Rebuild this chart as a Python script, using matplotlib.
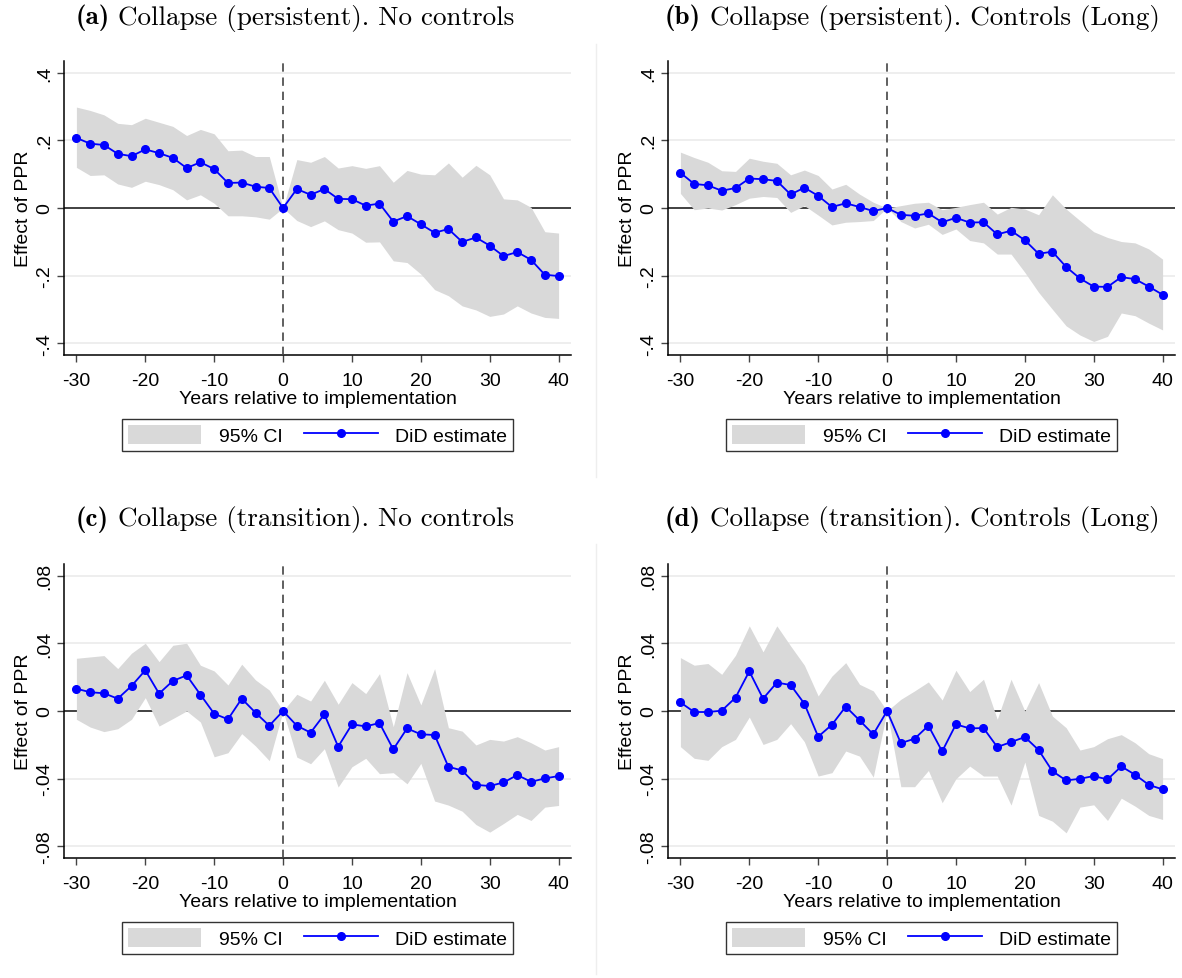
import matplotlib
matplotlib.use("Agg")
import matplotlib.pyplot as plt
from matplotlib.patches import Patch
from matplotlib.lines import Line2D
import numpy as np

plt.rcParams['font.family'] = ['Liberation Sans', 'DejaVu Sans']
plt.rcParams['axes.unicode_minus'] = False

# event time (years relative to implementation)
years = list(range(-30, 41, 2))

# (a) Collapse (persistent). No controls
est_a = [0.207, 0.190, 0.186, 0.160, 0.153, 0.173, 0.162, 0.148, 0.118, 0.135, 0.115, 0.074, 0.075, 0.063, 0.059,
         0.0,
         0.056, 0.039, 0.056, 0.027, 0.026, 0.007, 0.013, -0.040, -0.024, -0.048, -0.073, -0.062, -0.100, -0.087,
         -0.111, -0.142, -0.130, -0.153, -0.197, -0.201]
hi_a = [0.298, 0.288, 0.275, 0.250, 0.246, 0.265, 0.253, 0.241, 0.214, 0.232, 0.219, 0.169, 0.171, 0.152, 0.152,
        0.0,
        0.143, 0.135, 0.152, 0.118, 0.125, 0.117, 0.125, 0.076, 0.111, 0.100, 0.098, 0.133, 0.091, 0.126,
        0.098, 0.027, 0.024, 0.002, -0.070, -0.074]
lo_a = [0.120, 0.096, 0.098, 0.071, 0.061, 0.079, 0.069, 0.054, 0.024, 0.039, 0.014, -0.023, -0.023, -0.026, -0.033,
        0.0,
        -0.037, -0.055, -0.038, -0.064, -0.074, -0.101, -0.100, -0.156, -0.161, -0.195, -0.241, -0.259, -0.289, -0.301,
        -0.320, -0.313, -0.289, -0.310, -0.323, -0.326]

# (b) Collapse (persistent). Controls (Long)
est_b = [0.104, 0.071, 0.067, 0.051, 0.059, 0.087, 0.085, 0.080, 0.040, 0.060, 0.036, 0.003, 0.014, 0.003, -0.009,
         0.0,
         -0.020, -0.023, -0.016, -0.042, -0.029, -0.043, -0.042, -0.078, -0.067, -0.095, -0.135, -0.129, -0.174, -0.208,
         -0.232, -0.233, -0.204, -0.210, -0.232, -0.256]
hi_b = [0.165, 0.149, 0.135, 0.110, 0.108, 0.147, 0.138, 0.132, 0.098, 0.112, 0.096, 0.056, 0.070, 0.041, 0.017,
        0.0,
        0.007, 0.014, 0.017, -0.005, 0.002, 0.010, 0.017, -0.018, 0.002, -0.003, -0.020, 0.039, -0.003, -0.037,
        -0.070, -0.087, -0.099, -0.103, -0.121, -0.151]
lo_b = [0.043, -0.005, 0.000, -0.006, 0.010, 0.029, 0.034, 0.031, -0.013, 0.007, -0.021, -0.050, -0.042, -0.040, -0.037,
        0.0,
        -0.040, -0.059, -0.048, -0.078, -0.062, -0.096, -0.103, -0.136, -0.136, -0.190, -0.249, -0.299, -0.348, -0.375,
        -0.394, -0.379, -0.310, -0.318, -0.340, -0.360]

# (c) Collapse (transition). No controls
est_c = [0.0132, 0.0111, 0.0105, 0.0073, 0.0148, 0.0241, 0.0103, 0.0178, 0.0211, 0.0097, -0.0016, -0.0049, 0.0073,
         -0.0010, -0.0087,
         0.0,
         -0.0087, -0.0128, -0.0020, -0.0211, -0.0079, -0.0091, -0.0071, -0.0227, -0.0103, -0.0138, -0.0142, -0.0330,
         -0.0352, -0.0437, -0.0444, -0.0423, -0.0379, -0.0419, -0.0399, -0.0385]
hi_c = [0.0312, 0.0320, 0.0328, 0.0251, 0.0342, 0.0401, 0.0292, 0.0389, 0.0401, 0.0271, 0.0237, 0.0154, 0.0277,
        0.0184, 0.0124,
        0.0,
        0.0099, 0.0059, 0.0182, 0.0040, 0.0168, 0.0103, 0.0221, -0.0093, 0.0227, 0.0036, 0.0251, -0.0099,
        -0.0119, -0.0201, -0.0168, -0.0178, -0.0152, -0.0188, -0.0231, -0.0211]
lo_c = [-0.0049, -0.0095, -0.0122, -0.0105, -0.0049, 0.0079, -0.0089, -0.0045, 0.0000, -0.0065, -0.0271, -0.0247,
        -0.0134, -0.0207, -0.0294,
        0.0,
        -0.0273, -0.0312, -0.0223, -0.0450, -0.0330, -0.0280, -0.0371, -0.0365, -0.0431, -0.0310, -0.0533, -0.0557,
        -0.0593, -0.0672, -0.0717, -0.0666, -0.0612, -0.0648, -0.0569, -0.0559]

# (d) Collapse (transition). Controls (Long)
est_d = [0.0051, -0.0006, -0.0006, 0.0002, 0.0079, 0.0235, 0.0073, 0.0168, 0.0154, 0.0043, -0.0152, -0.0081, 0.0026,
         -0.0055, -0.0138,
         0.0,
         -0.0190, -0.0164, -0.0087, -0.0239, -0.0079, -0.0103, -0.0101, -0.0213, -0.0184, -0.0154, -0.0231, -0.0356,
         -0.0411, -0.0401, -0.0385, -0.0405, -0.0328, -0.0377, -0.0437, -0.0464]
hi_d = [0.0316, 0.0271, 0.0281, 0.0217, 0.0330, 0.0504, 0.0350, 0.0504, 0.0385, 0.0271, 0.0089, 0.0207, 0.0286,
        0.0158, 0.0119,
        0.0,
        0.0069, 0.0119, 0.0172, 0.0065, 0.0241, 0.0115, 0.0188, -0.0049, 0.0188, 0.0000, 0.0168, -0.0030,
        -0.0099, -0.0231, -0.0211, -0.0164, -0.0140, -0.0188, -0.0253, -0.0282]
lo_d = [-0.0211, -0.0280, -0.0292, -0.0211, -0.0168, -0.0036, -0.0198, -0.0168, -0.0075, -0.0182, -0.0385, -0.0365,
        -0.0237, -0.0267, -0.0391,
        0.0,
        -0.0448, -0.0448, -0.0352, -0.0543, -0.0401, -0.0326, -0.0385, -0.0385, -0.0557, -0.0302, -0.0618, -0.0652,
        -0.0721, -0.0569, -0.0555, -0.0648, -0.0516, -0.0563, -0.0618, -0.0642]

title_tags = ["(a)", "(b)", "(c)", "(d)"]
title_texts = ["Collapse (persistent). No controls",
               "Collapse (persistent). Controls (Long)",
               "Collapse (transition). No controls",
               "Collapse (transition). Controls (Long)"]

xticks = [-30, -20, -10, 0, 10, 20, 30, 40]
yticks_top = [-0.4, -0.2, 0, 0.2, 0.4]
ylabels_top = ['-.4', '-.2', '0', '.2', '.4']
yticks_bot = [-0.08, -0.04, 0, 0.04, 0.08]
ylabels_bot = ['-.08', '-.04', '0', '.04', '.08']

W, H = 1182, 979
FS = 14


def panel(fig, rect, est, lo, hi, yticks, ylabels, ylim):
    ax = fig.add_axes(rect)
    ax.fill_between(years, lo, hi, color='#d9d9d9', lw=0, zorder=2)
    ax.axhline(0, color='#333333', lw=1.3, zorder=1)
    for t in yticks:
        if t != 0:
            ax.axhline(t, color='#ebebeb', lw=1.2, zorder=0)
    ax.axvline(0, color='#444444', lw=1.2, ls=(0, (5, 3.5)), zorder=3)
    ax.plot(years, est, color='#0000ff', lw=1.3, marker='o', ms=5.5, zorder=4)
    ax.set_xlim(-31.8, 41.8)
    ax.set_ylim(-ylim, ylim)
    ax.set_xticks(xticks)
    ax.set_xticklabels([str(v) for v in xticks])
    ax.set_yticks(yticks)
    ax.set_yticklabels(ylabels, rotation=90, va='center')
    for s in ['top', 'right']:
        ax.spines[s].set_visible(False)
    for s in ['left', 'bottom']:
        ax.spines[s].set_color('black')
        ax.spines[s].set_linewidth(1.1)
    ax.tick_params(length=5, width=1.0, color='#444444', labelsize=FS, pad=3)
    ax.tick_params(axis='x', pad=7)
    ax.set_xlabel('Years relative to implementation', fontsize=FS, labelpad=1)
    ax.set_ylabel('Effect of PPR', fontsize=FS, labelpad=3)
    handles = [Patch(facecolor='#d9d9d9', edgecolor='none'),
               Line2D([], [], color='#0000ff', lw=1.3, marker='o', ms=5.5)]
    leg = ax.legend(handles, ['95% CI', 'DiD estimate'], loc='upper center',
                    bbox_to_anchor=(0.5, -64 / 294), ncol=2, fontsize=FS,
                    frameon=True, fancybox=False, edgecolor='black',
                    handlelength=3.8, handleheight=1.1, columnspacing=1.1,
                    handletextpad=0.9, borderaxespad=0, borderpad=0.3,
                    numpoints=1)
    leg.get_frame().set_linewidth(1.0)
    return ax


def main():
    fig = plt.figure(figsize=(W / 100, H / 100), dpi=100)
    ax_w = 507 / W
    ax_h = 294 / H
    panel(fig, [64 / W, 1 - 356 / H, ax_w, ax_h], est_a, lo_a, hi_a, yticks_top, ylabels_top, 0.434)
    panel(fig, [668 / W, 1 - 356 / H, ax_w, ax_h], est_b, lo_b, hi_b, yticks_top, ylabels_top, 0.434)
    panel(fig, [64 / W, 1 - 859 / H, ax_w, ax_h], est_c, lo_c, hi_c, yticks_bot, ylabels_bot, 0.087)
    panel(fig, [668 / W, 1 - 859 / H, ax_w, ax_h], est_d, lo_d, hi_d, yticks_bot, ylabels_bot, 0.087)

    # titles: bold tag + roman text, centred as one line
    renderer = fig.canvas.get_renderer()
    title_pos = [(295, 18), (912, 18), (295, 520), (912, 520)]
    for (tx, ty), tag, txt in zip(title_pos, title_tags, title_texts):
        t1 = fig.text(0, 1 - ty / H, tag, family='cmb10', fontsize=19.5, va='center')
        t2 = fig.text(0, 1 - ty / H, txt, family='cmr10', fontsize=19.5, va='center')
        w1 = t1.get_window_extent(renderer).width
        w2 = t2.get_window_extent(renderer).width
        gap = 9
        x0 = tx - (w1 + gap + w2) / 2
        t1.set_x(x0 / W)
        t2.set_x((x0 + w1 + gap) / W)

    # faint separators between the sub-graphs
    for y0, y1 in [(45, 478), (545, 975)]:
        fig.add_artist(Line2D([595.5 / W, 595.5 / W], [1 - y0 / H, 1 - y1 / H],
                              color='#eeeeee', lw=1.0))

    fig.savefig('out.png', dpi=100)


if __name__ == "__main__":
    main()
